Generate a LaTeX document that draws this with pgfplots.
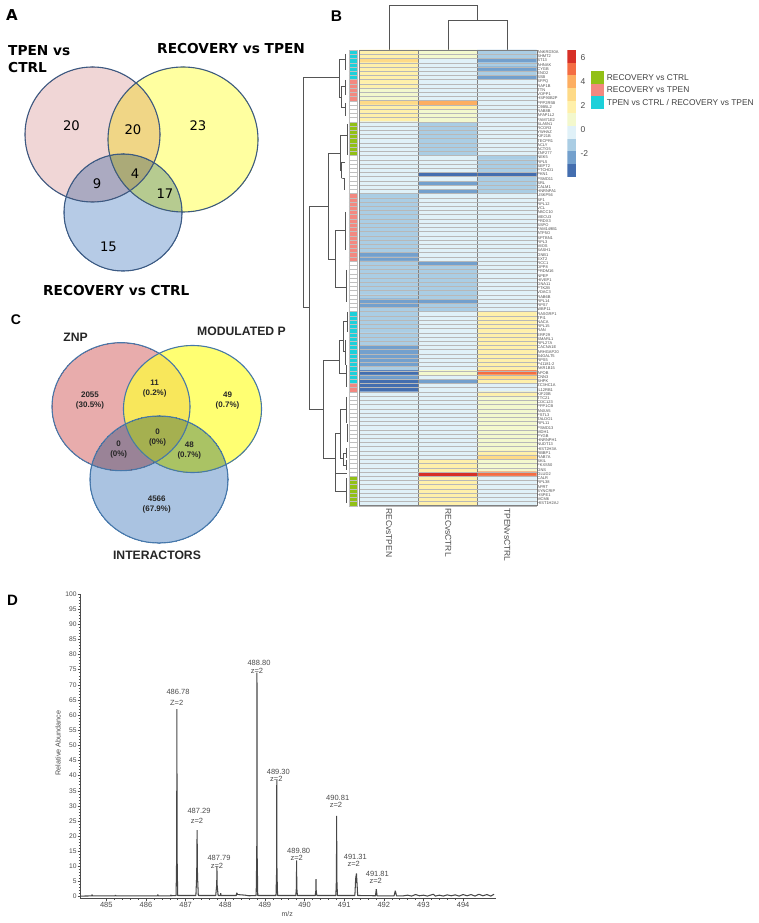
\documentclass[border=0pt]{standalone}
\usepackage{fontspec}
\setmainfont{Liberation Sans}
\newfontfamily\dejavu{DejaVu Sans}
\usepackage{pgfplots}
\pgfplotsset{compat=1.18}
\newcommand{\fs}[1]{\fontsize{#1}{#1}\selectfont}
% one set of a venn diagram: colour, cx, cy, rx, ry
\newcommand{\vset}[5]{\addplot[only marks, mark=*, mark size=#4pt,
  mark options={yscale=\fpeval{#5/#4}, fill=#1, draw=#1, line width=0pt, blend mode=multiply}] coordinates {(#2,#3)};}
\newcommand{\vring}[5]{\addplot[only marks, mark=o, mark size=#4pt,
  mark options={yscale=\fpeval{#5/#4}, draw=#1, fill=none, line width=1.1pt}] coordinates {(#2,#3)};}
\definecolor{annC}{RGB}{28,208,218}
\definecolor{annS}{RGB}{243,136,128}
\definecolor{annG}{RGB}{146,192,22}
\definecolor{dendro}{RGB}{85,85,85}
\definecolor{specgray}{RGB}{75,75,75}
\definecolor{pinkA}{RGB}{240,214,214}
\definecolor{yellowA}{RGB}{255,255,160}
\definecolor{blueA}{RGB}{182,203,230}
\definecolor{lineA}{RGB}{60,90,130}
\definecolor{pinkC}{RGB}{232,172,172}
\definecolor{yellowC}{RGB}{255,255,60}
\definecolor{blueC}{RGB}{170,195,225}
\definecolor{lineC}{RGB}{70,120,170}
\tikzset{vc/.style={font=\bfseries\fs{8}, align=center, text=black!85},
  pk/.style={font=\fs{7.5}, text=specgray},
  collab/.style={rotate=-90, anchor=west, font=\fs{8.5}, text=black!70}}
% hidden axis as large as the page, its units are reference pixels
\pgfplotsset{page/.style={at={(0pt,0pt)}, anchor=south west, width=758pt, height=923pt, scale only axis,
  xmin=0, xmax=758, ymin=0, ymax=923, y dir=reverse, hide axis, clip=false,
  unbounded coords=jump, nodes={inner sep=0pt}}}
\begin{document}
\begin{tikzpicture}
\useasboundingbox (0,0) rectangle (758pt,923pt);
\begin{axis}[page]
% panel A
\vset{pinkA}{92.5}{134.5}{67.5}{67.5}
\vset{yellowA}{183}{139.5}{75}{72.5}
\vset{blueA}{123}{212.5}{59}{58.5}
\vring{lineA}{92.5}{134.5}{67.5}{67.5}
\vring{lineA}{183}{139.5}{75}{72.5}
\vring{lineA}{123}{212.5}{59}{58.5}
% panel C, the yellow is laid over the pink with plain transparency
\vset{pinkC}{121}{406.7}{69}{64}
\addplot[only marks, mark=*, mark size=69pt,
  mark options={yscale=\fpeval{63.5/69}, fill=yellowC, draw=yellowC, line width=0pt, opacity=.72}] coordinates {(192.5,409)};
\vset{blueC}{159}{479.5}{69}{63.5}
\vring{lineC}{121}{406.7}{69}{64}
\vring{lineC}{192.5}{409}{69}{63.5}
\vring{lineC}{159}{479.5}{69}{63.5}
% top dendrogram
\addplot[dendro, line width=.6pt, mark=none] coordinates {
 (389,50)(389,5.3)(477.7,5.3)(477.7,20) (nan,nan)
 (448.3,50)(448.3,20)(507.3,20)(507.3,50)};
% left dendrogram
\addplot[dendro, line width=.6pt, mark=none] coordinates {
 (339.5,77.5)(303,77.5)(303,307.7)(309.7,307.7) (nan,nan)
 (328.3,206.7)(309.7,206.7)(309.7,409.3)(323.3,409.3) (nan,nan)
 (340,135)(340,153.3)(328.3,153.3)(328.3,259)(335,259) (nan,nan)
 (347,135)(340,135) (nan,nan) (341.7,170)(340,170)(340,153) (nan,nan)
 (335,230.7)(335,287.3) (nan,nan) (345,230.7)(335,230.7) (nan,nan) (346.7,287.3)(335,287.3) (nan,nan)
 (345,59)(339.5,59)(339.5,97)(341,97) (nan,nan)
 (345,86)(341,86)(341,107)(345,107) (nan,nan)
 (345,54)(345,70) (nan,nan) (345,80)(345,95) (nan,nan) (345,103)(345,116) (nan,nan)
 (347,124)(347,155) (nan,nan) (341.7,162)(341.7,178) (nan,nan) (345,162)(341.7,162) (nan,nan) (344,178)(341.7,178)(344,178)(344,190) (nan,nan)
 (345,212)(345,250) (nan,nan) (346.7,270)(346.7,302) (nan,nan)
 (323.3,360)(339.3,360) (nan,nan) (323.3,409.3)(323.3,360) (nan,nan) (323.3,409.3)(323.3,458.7)(335,458.7) (nan,nan)
 (339.3,340.7)(339.3,373.3)(346.7,373.3) (nan,nan) (339.3,340.7)(343.3,340.7) (nan,nan)
 (343.3,321.7)(343.3,351.7)(345.7,351.7) (nan,nan) (343.3,321.7)(347.7,321.7) (nan,nan)
 (347.7,312)(347.7,332) (nan,nan) (345.7,340)(345.7,365) (nan,nan) (346.7,365)(346.7,387) (nan,nan)
 (335,433.3)(335,491.7)(346.7,491.7) (nan,nan) (335,473.3)(346.7,473.3) (nan,nan)
 (335,433.3)(340,433.3) (nan,nan) (340,409)(340,458.3)(343.3,458.3) (nan,nan) (340,409)(346.7,409) (nan,nan)
 (346.7,397)(346.7,423) (nan,nan) (347.3,424)(347.3,442) (nan,nan)
 (343.3,453.3)(343.3,465) (nan,nan) (343.3,453.3)(346.7,453.3) (nan,nan) (343.3,465)(346.7,465) (nan,nan)
 (346.7,448)(346.7,458) (nan,nan) (346.7,460)(346.7,470) (nan,nan) (346.7,478)(346.7,503)};
% legend of the row groups
\addplot[only marks, mark=square*, mark size=6.15pt, mark options={fill=annG, draw=annG, line width=0pt}] coordinates {(597.8,77.8)};
\addplot[only marks, mark=square*, mark size=6.15pt, mark options={fill=annS, draw=annS, line width=0pt}] coordinates {(597.8,90.2)};
\addplot[only marks, mark=square*, mark size=6.15pt, mark options={fill=annC, draw=annC, line width=0pt}] coordinates {(597.8,102.5)};
\end{axis}
% ---- all page text, in an axis of its own since marks go over the nodes of their axis
\begin{axis}[page]
\node[anchor=west, font=\fs{8.4}, text=black!75] at (axis cs:606.7,77.7) {RECOVERY vs CTRL};
\node[anchor=west, font=\fs{8.4}, text=black!75] at (axis cs:606.7,90) {RECOVERY vs TPEN};
\node[anchor=west, font=\fs{8.4}, text=black!75] at (axis cs:606.7,102.3) {TPEN vs CTRL / RECOVERY vs TPEN};
% column names of the heat map
\node[collab] at (axis cs:389,508) {RECvsTPEN};
\node[collab] at (axis cs:448.3,508) {RECvsCTRL};
\node[collab] at (axis cs:507.3,508) {TPENvsCTRL};
% panel letters
\node[font=\dejavu\bfseries\fs{15}] at (axis cs:12,15) {A};
\node[font=\bfseries\fs{15.5}] at (axis cs:336.5,16) {B};
\node[font=\bfseries\fs{14}] at (axis cs:16,320) {C};
\node[font=\bfseries\fs{15}] at (axis cs:12.5,600) {D};
% venn A text
\node[anchor=base west, font=\dejavu\bfseries\fs{13.7}] at (axis cs:8,56) {TPEN vs};
\node[anchor=base west, font=\dejavu\bfseries\fs{13.7}] at (axis cs:8,73) {CTRL};
\node[anchor=base west, font=\dejavu\bfseries\fs{13.7}] at (axis cs:157,54) {RECOVERY vs TPEN};
\node[anchor=base west, font=\dejavu\bfseries\fs{13.7}] at (axis cs:43,295) {RECOVERY vs CTRL};
\node[font=\dejavu\fs{13.2}] at (axis cs:71.5,126) {20};
\node[font=\dejavu\fs{13.2}] at (axis cs:133,130) {20};
\node[font=\dejavu\fs{13.2}] at (axis cs:198,126) {23};
\node[font=\dejavu\fs{13.2}] at (axis cs:97,184) {9};
\node[font=\dejavu\fs{13.2}] at (axis cs:135,174) {4};
\node[font=\dejavu\fs{13.2}] at (axis cs:165,194) {17};
\node[font=\dejavu\fs{13.2}] at (axis cs:108.5,247) {15};
% venn C text
\node[font=\bfseries\fs{12.2}, text=black!85] at (axis cs:75.5,337) {ZNP};
\node[font=\bfseries\fs{12.2}, text=black!85] at (axis cs:241.5,331.7) {MODULATED P};
\node[font=\bfseries\fs{12.2}, text=black!85] at (axis cs:157,555.7) {INTERACTORS};
\node[vc] at (axis cs:90,400.7) {2055\\[2pt](30.5\%)};
\node[vc] at (axis cs:154.7,388.3) {11\\[2pt](0.2\%)};
\node[vc] at (axis cs:227.5,400.7) {49\\[2pt](0.7\%)};
\node[vc] at (axis cs:157.5,437.7) {0\\[2pt](0\%)};
\node[vc] at (axis cs:118.7,450) {0\\[2pt](0\%)};
\node[vc] at (axis cs:189.3,450.7) {48\\[2pt](0.7\%)};
\node[vc] at (axis cs:156.7,504.3) {4566\\[2pt](67.9\%)};
% peak labels of D
\node[pk] at (axis cs:178,692.3) {486.78};
\node[pk] at (axis cs:176.7,703) {Z=2};
\node[pk] at (axis cs:199,810.7) {487.29};
\node[pk] at (axis cs:197,821.3) {z=2};
\node[pk] at (axis cs:219,858.3) {487.79};
\node[pk] at (axis cs:217,865.7) {z=2};
\node[pk] at (axis cs:259,663.3) {488.80};
\node[pk] at (axis cs:257,670.7) {z=2};
\node[pk] at (axis cs:278.3,772) {489.30};
\node[pk] at (axis cs:276.3,779.3) {z=2};
\node[pk] at (axis cs:298.7,850.7) {489.80};
\node[pk] at (axis cs:296.7,857.7) {z=2};
\node[pk] at (axis cs:337.7,797.7) {490.81};
\node[pk] at (axis cs:336,804.7) {z=2};
\node[pk] at (axis cs:355.3,856.7) {491.31};
\node[pk] at (axis cs:353.7,863.7) {z=2};
\node[pk] at (axis cs:377.3,874.3) {491.81};
\node[pk] at (axis cs:375.7,881.3) {z=2};
\end{axis}
% ---- row group colour strip
\begin{axis}[at={(348.7pt,417.3pt)}, anchor=south west, width=8.6pt, height=455.7pt, scale only axis,
  xmin=0, xmax=1, ymin=0.5, ymax=108.5, y dir=reverse,
  xtick=\empty, ytick={0.5,1.5,...,108.5}, yticklabels={}, major tick length=0pt,
  ymajorgrids, grid style={black!25, line width=.25pt}, axis line style={black!25, line width=.25pt}, axis on top]
\addplot[fill=annC, draw=none] coordinates {(0,0.5)(1,0.5)(1,7.5)(0,7.5)} --cycle;
\addplot[fill=annS, draw=none] coordinates {(0,7.5)(1,7.5)(1,12.5)(0,12.5)} --cycle;
\addplot[fill=annG, draw=none] coordinates {(0,17.5)(1,17.5)(1,25.5)(0,25.5)} --cycle;
\addplot[fill=annS, draw=none] coordinates {(0,34.5)(1,34.5)(1,50.5)(0,50.5)} --cycle;
\addplot[fill=annC, draw=none] coordinates {(0,62.5)(1,62.5)(1,79.5)(0,79.5)} --cycle;
\addplot[fill=annS, draw=none] coordinates {(0,79.5)(1,79.5)(1,81.5)(0,81.5)} --cycle;
\addplot[fill=annG, draw=none] coordinates {(0,101.5)(1,101.5)(1,108.5)(0,108.5)} --cycle;
\end{axis}
% ---- heat map
\begin{axis}[at={(359.3pt,417.3pt)}, anchor=south west, width=177.4pt, height=455.7pt, scale only axis,
  xmin=0.5, xmax=3.5, ymin=0.5, ymax=108.5, y dir=reverse, enlargelimits=false, axis on top,
  colormap={hm}{rgb255=(68,110,175) rgb255=(115,160,205) rgb255=(170,205,228) rgb255=(224,241,248)
    rgb255=(243,248,205) rgb255=(255,240,170) rgb255=(254,218,135) rgb255=(253,174,97)
    rgb255=(244,109,67) rgb255=(215,48,39)},
  point meta min=-3, point meta max=6,
  major tick length=0pt, minor tick length=0pt, axis line style={black!50, line width=.4pt},
  xtick={1.5,2.5}, xticklabels={}, xmajorgrids, major grid style={black!50, line width=.5pt},
  minor ytick={0.5,1.5,...,108.5}, yminorgrids, minor grid style={black!28, line width=.3pt},
  ytick={1,...,108}, yticklabel pos=right,
  yticklabel style={anchor=west, inner sep=0pt, font=\fs{4}, text=black!70, xshift=.5pt},
  yticklabels={ANKRD30A,SHMT2,ST13,AHNAK,CYGB,ENO2,SSB,SFPQ,RAP1B,TTN,VOPP1,HSP90B2P,PPP2R5B,C9B5L2,RAB8B,AFAP1L2,FAM71E2,SLA5N1,RCOR3,YWHAZ,KIF21B,TECPR1,ACLY,ACTG5,ZNF277,NEK5,RPL5,SEPT2,PTCHD1,PKN1,PSMD11,SRL,CALM1,HNRNPA1,USKP56,SF1,RPL12,VCL,ABCC10,MECU3,PRDX3,SSPO,FAM149B1,ATP5O,SPTBN1,RPL3,MIOS,SASH1,GNB1,EXT2,RCC1,DPP8,PRDM16,NPEP,HIVEP1,GNA11,PTK2B,VDAC3,RAB6B,RPL14,RPS7,WBP11,RASGRP1,TPI1,NACA,RPL15,RAN,ERP29,SMARL1,RPL27A,CACNA1E,ARHGAP20,B4GALT5,RPS5,P41181-2,AKR1B15,APOB,CNN3,SHPK,ZC3HC1A,IL12RB1,KIF20B,TTC21,CDC123,PPP1CB,ANXA5,FSTL3,TALDO1,RPL11,PSMD13,MDH1,PYGB,HNRNPH1,NUDT13,HIST2H3A,RBBP1,RAB7A,SKIL,FKXS50,GNS,GLUD2,CALR,RPL38,APRT,SYNCRIP,HSPE1,MCM6,HIST1H2AJ}]
\addplot[matrix plot*, mesh/cols=3, point meta=explicit] coordinates {
(1,1)[2] (2,1)[1] (3,1)[-1]
(1,2)[2] (2,2)[1] (3,2)[-1]
(1,3)[3] (2,3)[0] (3,3)[-2]
(1,4)[2] (2,4)[0] (3,4)[-1]
(1,5)[2] (2,5)[0] (3,5)[-2]
(1,6)[2] (2,6)[0] (3,6)[-1]
(1,7)[2] (2,7)[0] (3,7)[-2]
(1,8)[2] (2,8)[0] (3,8)[0]
(1,9)[2] (2,9)[0] (3,9)[0]
(1,10)[1] (2,10)[0] (3,10)[0]
(1,11)[1] (2,11)[0] (3,11)[0]
(1,12)[1] (2,12)[0] (3,12)[0]
(1,13)[3] (2,13)[4] (3,13)[0]
(1,14)[2] (2,14)[2] (3,14)[0]
(1,15)[2] (2,15)[1] (3,15)[0]
(1,16)[2] (2,16)[1] (3,16)[0]
(1,17)[2] (2,17)[1] (3,17)[0]
(1,18)[0] (2,18)[-1] (3,18)[0]
(1,19)[0] (2,19)[-1] (3,19)[0]
(1,20)[0] (2,20)[-1] (3,20)[0]
(1,21)[0] (2,21)[-1] (3,21)[0]
(1,22)[0] (2,22)[-1] (3,22)[0]
(1,23)[0] (2,23)[-1] (3,23)[0]
(1,24)[0] (2,24)[-1] (3,24)[0]
(1,25)[0] (2,25)[-1] (3,25)[0]
(1,26)[0] (2,26)[0] (3,26)[-1]
(1,27)[0] (2,27)[0] (3,27)[-1]
(1,28)[0] (2,28)[0] (3,28)[-1]
(1,29)[0] (2,29)[0] (3,29)[-1]
(1,30)[0] (2,30)[-3] (3,30)[-3]
(1,31)[0] (2,31)[0] (3,31)[-1]
(1,32)[0] (2,32)[-2] (3,32)[-1]
(1,33)[0] (2,33)[0] (3,33)[-1]
(1,34)[0] (2,34)[-2] (3,34)[-1]
(1,35)[-1] (2,35)[0] (3,35)[0]
(1,36)[-1] (2,36)[0] (3,36)[0]
(1,37)[-1] (2,37)[0] (3,37)[0]
(1,38)[-1] (2,38)[0] (3,38)[0]
(1,39)[-1] (2,39)[0] (3,39)[0]
(1,40)[-1] (2,40)[0] (3,40)[0]
(1,41)[-1] (2,41)[0] (3,41)[0]
(1,42)[-1] (2,42)[0] (3,42)[0]
(1,43)[-1] (2,43)[0] (3,43)[0]
(1,44)[-1] (2,44)[0] (3,44)[0]
(1,45)[-1] (2,45)[0] (3,45)[0]
(1,46)[-1] (2,46)[0] (3,46)[0]
(1,47)[-1] (2,47)[0] (3,47)[0]
(1,48)[-1] (2,48)[0] (3,48)[0]
(1,49)[-2] (2,49)[0] (3,49)[0]
(1,50)[-2] (2,50)[0] (3,50)[0]
(1,51)[-1] (2,51)[-2] (3,51)[0]
(1,52)[-1] (2,52)[-1] (3,52)[0]
(1,53)[-1] (2,53)[-1] (3,53)[0]
(1,54)[-1] (2,54)[-1] (3,54)[0]
(1,55)[-1] (2,55)[-1] (3,55)[0]
(1,56)[-1] (2,56)[-1] (3,56)[0]
(1,57)[-1] (2,57)[-1] (3,57)[0]
(1,58)[-1] (2,58)[-1] (3,58)[0]
(1,59)[-1] (2,59)[-1] (3,59)[0]
(1,60)[-2] (2,60)[-2] (3,60)[0]
(1,61)[-2] (2,61)[-1] (3,61)[0]
(1,62)[-1] (2,62)[-1] (3,62)[0]
(1,63)[-1] (2,63)[0] (3,63)[2]
(1,64)[-1] (2,64)[0] (3,64)[2]
(1,65)[-1] (2,65)[0] (3,65)[2]
(1,66)[-1] (2,66)[0] (3,66)[2]
(1,67)[-1] (2,67)[0] (3,67)[2]
(1,68)[-1] (2,68)[0] (3,68)[2]
(1,69)[-1] (2,69)[0] (3,69)[2]
(1,70)[-1] (2,70)[0] (3,70)[2]
(1,71)[-2] (2,71)[0] (3,71)[2]
(1,72)[-2] (2,72)[0] (3,72)[2]
(1,73)[-2] (2,73)[0] (3,73)[2]
(1,74)[-2] (2,74)[0] (3,74)[2]
(1,75)[-2] (2,75)[0] (3,75)[2]
(1,76)[-1] (2,76)[0] (3,76)[2]
(1,77)[-3] (2,77)[1] (3,77)[5]
(1,78)[-2] (2,78)[0] (3,78)[3]
(1,79)[-3] (2,79)[-2] (3,79)[2]
(1,80)[-3] (2,80)[0] (3,80)[0]
(1,81)[-3] (2,81)[0] (3,81)[0]
(1,82)[0] (2,82)[0] (3,82)[2]
(1,83)[0] (2,83)[0] (3,83)[1]
(1,84)[0] (2,84)[0] (3,84)[1]
(1,85)[0] (2,85)[0] (3,85)[1]
(1,86)[0] (2,86)[0] (3,86)[1]
(1,87)[0] (2,87)[0] (3,87)[1]
(1,88)[0] (2,88)[0] (3,88)[1]
(1,89)[0] (2,89)[0] (3,89)[1]
(1,90)[0] (2,90)[0] (3,90)[1]
(1,91)[0] (2,91)[0] (3,91)[1]
(1,92)[0] (2,92)[0] (3,92)[1]
(1,93)[0] (2,93)[0] (3,93)[1]
(1,94)[0] (2,94)[0] (3,94)[1]
(1,95)[0] (2,95)[0] (3,95)[1]
(1,96)[0] (2,96)[0] (3,96)[2]
(1,97)[0] (2,97)[0] (3,97)[3]
(1,98)[0] (2,98)[2] (3,98)[1]
(1,99)[0] (2,99)[2] (3,99)[1]
(1,100)[0] (2,100)[2] (3,100)[1]
(1,101)[0] (2,101)[6] (3,101)[5]
(1,102)[0] (2,102)[2] (3,102)[0]
(1,103)[0] (2,103)[2] (3,103)[0]
(1,104)[0] (2,104)[2] (3,104)[0]
(1,105)[0] (2,105)[2] (3,105)[0]
(1,106)[0] (2,106)[2] (3,106)[0]
(1,107)[0] (2,107)[2] (3,107)[0]
(1,108)[0] (2,108)[2] (3,108)[0]
};
\end{axis}
% ---- colour scale
\begin{axis}[at={(567.3pt,746.3pt)}, anchor=south west, width=8.7pt, height=126.7pt, scale only axis,
  xmin=0, xmax=1, ymin=-3.89, ymax=6.67, xtick=\empty, ytick={-2,0,2,4,6}, yticklabel pos=right,
  major tick length=0pt, axis line style={draw=none},
  /pgf/number format/assume math mode=true,
  yticklabel style={font=\fs{8.5}, text=black!70, xshift=1pt}]
\addplot[fill={rgb,255:red,68;green,110;blue,175}, draw=none] coordinates {(0,-3.89)(1,-3.89)(1,-2.83)(0,-2.83)} --cycle;
\addplot[fill={rgb,255:red,115;green,160;blue,205}, draw=none] coordinates {(0,-2.83)(1,-2.83)(1,-1.78)(0,-1.78)} --cycle;
\addplot[fill={rgb,255:red,170;green,205;blue,228}, draw=none] coordinates {(0,-1.78)(1,-1.78)(1,-0.72)(0,-0.72)} --cycle;
\addplot[fill={rgb,255:red,224;green,241;blue,248}, draw=none] coordinates {(0,-0.72)(1,-0.72)(1,0.34)(0,0.34)} --cycle;
\addplot[fill={rgb,255:red,243;green,248;blue,205}, draw=none] coordinates {(0,0.34)(1,0.34)(1,1.39)(0,1.39)} --cycle;
\addplot[fill={rgb,255:red,255;green,240;blue,170}, draw=none] coordinates {(0,1.39)(1,1.39)(1,2.45)(0,2.45)} --cycle;
\addplot[fill={rgb,255:red,254;green,218;blue,135}, draw=none] coordinates {(0,2.45)(1,2.45)(1,3.50)(0,3.50)} --cycle;
\addplot[fill={rgb,255:red,253;green,174;blue,97}, draw=none] coordinates {(0,3.50)(1,3.50)(1,4.56)(0,4.56)} --cycle;
\addplot[fill={rgb,255:red,244;green,109;blue,67}, draw=none] coordinates {(0,4.56)(1,4.56)(1,5.61)(0,5.61)} --cycle;
\addplot[fill={rgb,255:red,215;green,48;blue,39}, draw=none] coordinates {(0,5.61)(1,5.61)(1,6.67)(0,6.67)} --cycle;
\end{axis}
% ---- spectrum
\begin{axis}[at={(80pt,24.8pt)}, anchor=south west, width=416pt, height=304.2pt, scale only axis,
  xmin=484.336, xmax=494.83, ymin=-0.5, ymax=100, axis lines=left, axis line style={-, specgray, line width=.6pt},
  xtick={485,486,...,494}, ytick={0,5,...,100}, minor x tick num=4, minor y tick num=4,
  tick align=outside, tick style={specgray, line width=.4pt}, major tick length=2.5pt, minor tick length=1.5pt,
  /pgf/number format/assume math mode=true, /pgf/number format/1000 sep={},
  xticklabel style={font=\fs{7.5}, text=specgray, inner sep=1.5pt},
  yticklabel style={font=\fs{6.7}, text=specgray, inner sep=.7pt},
  xlabel={m/z}, xlabel style={at={(axis description cs:0.498,0)}, anchor=center, yshift=-15.5pt, font=\fs{7}, text=specgray},
  ylabel={Relative Abundance}, ylabel style={at={(axis description cs:0,0.51)}, anchor=center, yshift=22pt, font=\fs{7.2}, text=specgray}]
\addplot[black!72, line width=1.05pt, line join=bevel, mark=none] coordinates {
(484.35,.2)(484.63,.25)(484.64,.7)(484.65,.25)(485.22,.3)(485.23,.5)(485.24,.3)(485.7,.25)(486.0,.3)
(486.29,.3)(486.3,.7)(486.31,.3)(486.62,.3)(486.63,.6)(486.64,.3)
(486.76,.4)(486.775,14)(486.78,62)(486.785,14)(486.80,.4)
(487.26,.4)(487.28,7)(487.29,22)(487.30,7)(487.32,.4)
(487.76,.4)(487.785,4)(487.79,10)(487.795,4)(487.82,.4)(487.88,.4)(487.885,1.2)(487.89,.4)
(488.28,.4)(488.29,1.3)(488.31,.7)(488.5,.5)(488.6,.3)
(488.78,.4)(488.795,14)(488.80,74)(488.805,14)(488.82,.4)
(489.28,.4)(489.295,8)(489.30,38.5)(489.305,8)(489.32,.4)
(489.78,.4)(489.795,3)(489.80,12)(489.805,3)(489.82,.4)
(490.27,.4)(490.285,2)(490.29,5.8)(490.295,2)(490.31,.4)
(490.79,.4)(490.805,6)(490.81,26.7)(490.815,6)(490.83,.4)
(491.27,.4)(491.29,6)(491.31,7.7)(491.33,3)(491.34,.4)
(491.79,.3)(491.81,2.5)(491.83,.3)
(492.26,.3)(492.29,2)(492.32,.3)
(492.5,.3)(492.6,.5)(492.7,.2)(492.8,.7)(492.9,.3)(493.0,.5)(493.1,.2)(493.25,.8)(493.3,.2)
(493.4,.5)(493.5,.2)(493.6,.6)(493.7,.3)(493.8,.6)(493.9,.2)(494.0,.7)(494.1,.3)(494.2,.7)
(494.3,.2)(494.4,.8)(494.5,.3)(494.6,.7)(494.7,.2)(494.78,.8)};
\end{axis}
\end{tikzpicture}
\end{document}
